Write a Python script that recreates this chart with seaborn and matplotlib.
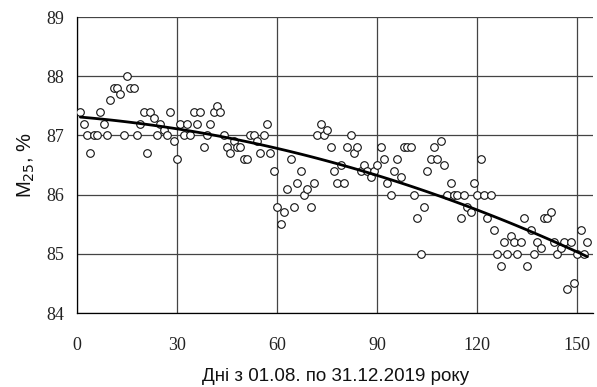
# M25 daily values, 01.08 - 31.12.2019, with 2nd-order trend
import numpy as np
import pandas as pd
import matplotlib
matplotlib.use("Agg")
import matplotlib.pyplot as plt
import seaborn as sns

# ── Data (one value per day) ──────────────────────────────────
aug = [87.4, 87.2, 87.0, 86.7, 87.0, 87.0, 87.4, 87.2, 87.0, 87.6, 87.8,
       87.8, 87.7, 87.0, 88.0, 87.8, 87.8, 87.0, 87.2, 87.4, 86.7, 87.4,
       87.3, 87.0, 87.2, 87.1, 87.0, 87.4, 86.9, 86.6, 87.2]
sep = [87.0, 87.2, 87.0, 87.4, 87.2, 87.4, 86.8, 87.0, 87.2, 87.4, 87.5,
       87.4, 87.0, 86.8, 86.7, 86.9, 86.8, 86.8, 86.6, 86.6, 87.0, 87.0,
       86.9, 86.7, 87.0, 87.2, 86.7, 86.4, 85.8, 85.5]
oct = [85.7, 86.1, 86.6, 85.8, 86.2, 86.4, 86.0, 86.1, 85.8, 86.2, 87.0,
       87.2, 87.0, 87.1, 86.8, 86.4, 86.2, 86.5, 86.2, 86.8, 87.0, 86.7,
       86.8, 86.4, 86.5, 86.4, 86.3, 86.4, 86.5, 86.8, 86.6]
nov = [86.2, 86.0, 86.4, 86.6, 86.3, 86.8, 86.8, 86.8, 86.0, 85.6, 85.0,
       85.8, 86.4, 86.6, 86.8, 86.6, 86.9, 86.5, 86.0, 86.2, 86.0, 86.0,
       85.6, 86.0, 85.8, 85.7, 86.2, 86.0, 86.6, 86.0]
dec = [85.6, 86.0, 85.4, 85.0, 84.8, 85.2, 85.0, 85.3, 85.2, 85.0, 85.2,
       85.6, 84.8, 85.4, 85.0, 85.2, 85.1, 85.6, 85.6, 85.7, 85.2, 85.0,
       85.1, 85.2, 84.4, 85.2, 84.5, 85.0, 85.4, 85.0, 85.2]

m25 = aug + sep + oct + nov + dec
days = list(range(1, len(m25) + 1))
df = pd.DataFrame({"day": days, "m25": m25})

x_ticks = [0, 30, 60, 90, 120, 150]
y_ticks = [84, 85, 86, 87, 88, 89]

# ── Plot ──────────────────────────────────────────────────────
sns.set_theme(style="white")
plt.rcParams["font.family"] = ["Liberation Sans", "DejaVu Sans"]

fig, ax = plt.subplots(figsize=(5.97, 3.87), dpi=100)
fig.subplots_adjust(left=0.129, right=0.994, top=0.956, bottom=0.191)

sns.scatterplot(data=df, x="day", y="m25", ax=ax, marker="o", s=30,
                facecolor="white", edgecolor="#111111", linewidth=0.8, zorder=3)
sns.regplot(data=df, x="day", y="m25", ax=ax, order=2, ci=None, scatter=False,
            truncate=True, line_kws={"color": "black", "lw": 2.0, "zorder": 4})

ax.set_xlim(0, 154.8)
ax.set_ylim(84, 89)
ax.set_xticks(x_ticks)
ax.set_yticks(y_ticks)
ax.grid(True, color="#444444", lw=0.9)
ax.set_axisbelow(True)

for s in ["top", "right"]:
    ax.spines[s].set_visible(False)
for s in ["left", "bottom"]:
    ax.spines[s].set_color("black")
    ax.spines[s].set_linewidth(0.9)

ax.tick_params(axis="y", direction="out", length=6, width=0.9, color="black", pad=3)
ax.tick_params(axis="x", direction="inout", length=8, width=0.9, color="black", pad=13)
for lab in ax.get_xticklabels() + ax.get_yticklabels():
    lab.set_fontfamily("Liberation Serif")
    lab.set_fontsize(13)
    lab.set_color("#222222")

ax.set_xlabel("Дні з 01.08. по 31.12.2019 року", fontsize=13.5, labelpad=10,
              color="#111111")
ax.set_ylabel("M$_{25}$, %", fontsize=14.5, labelpad=7, color="#111111")

fig.savefig("out.png", dpi=100)
plt.close(fig)
